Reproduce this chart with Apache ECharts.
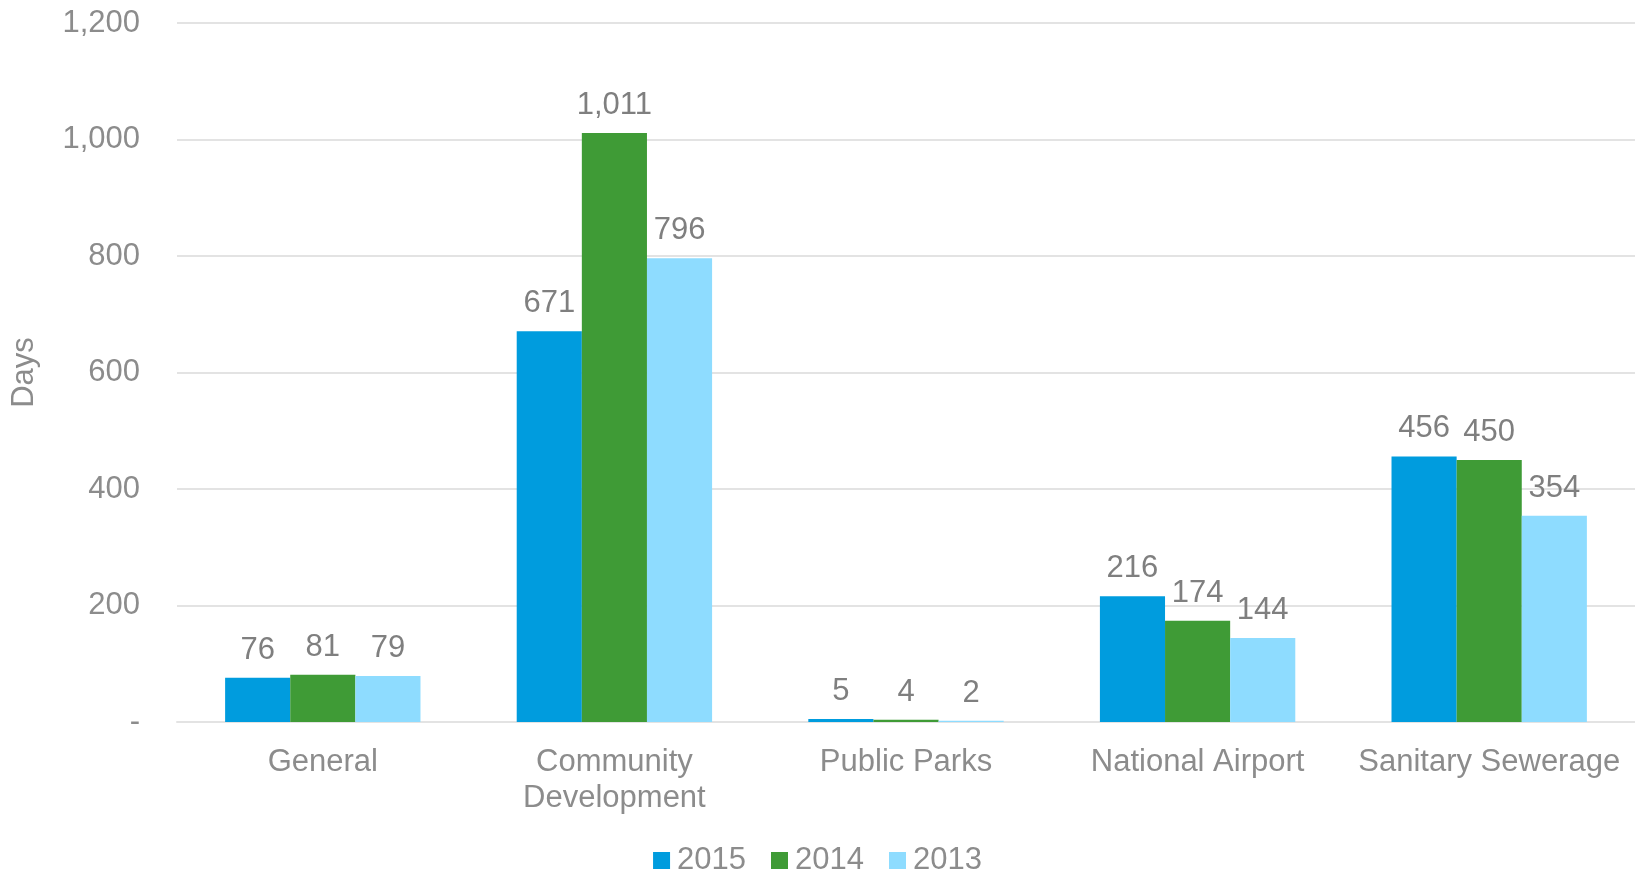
<!DOCTYPE html>
<html>
<head>
<meta charset="utf-8">
<script src="https://cdn.jsdelivr.net/npm/echarts@6/dist/echarts.min.js"></script>
<style>html,body{margin:0;padding:0;background:#fff;}#c{width:1635px;height:869px;}</style>
</head>
<body>
<div id="c"></div>
<script>
const categories = ['General', 'Community\nDevelopment', 'Public Parks', 'National Airport', 'Sanitary Sewerage'];
const seriesNames = ['2015', '2014', '2013'];
const values2015 = [76, 671, 5, 216, 456];
const values2014 = [81, 1011, 4, 174, 450];
const values2013 = [79, 796, 2, 144, 354];
const colors = ['#009CDE', '#3F9B36', '#8EDCFF'];
const yTicks = { min: 0, max: 1200, interval: 200 };

const fmt = v => v === 0 ? '-' : v.toLocaleString('en-US');
const FONT = 'Liberation Sans, Arial, sans-serif';
const chart = echarts.init(document.getElementById('c'));
const mk = (name, data, color) => ({
  name, type: 'bar', data,
  itemStyle: { color },
  barGap: '0%', barCategoryGap: '33%',
  label: { show: true, position: 'top', distance: 12, color: '#7f7f7f', fontSize: 31, fontFamily: FONT,
           formatter: p => fmt(p.value) }
});
chart.setOption({
  animation: false,
  grid: { left: 177, right: 0, top: 23, bottom: 147 },
  legend: {
    data: seriesNames, top: 840, left: 'center', icon: 'rect', itemWidth: 17, itemHeight: 17,
    itemGap: 25, textStyle: { color: '#8c8c8c', fontSize: 31, fontFamily: FONT, padding: [0, 0, 0, 2] }
  },
  xAxis: {
    type: 'category', data: categories,
    axisLine: { show: true, lineStyle: { color: '#e3e3e3', width: 2 } },
    axisTick: { show: false },
    axisLabel: { color: '#8c8c8c', fontSize: 31, fontFamily: FONT, margin: 22, lineHeight: 36, interval: 0 }
  },
  yAxis: {
    type: 'value', min: yTicks.min, max: yTicks.max, interval: yTicks.interval,
    name: 'Days', nameLocation: 'middle', nameGap: 137, nameRotate: 90,
    nameTextStyle: { color: '#8c8c8c', fontSize: 31, fontFamily: FONT },
    axisLine: { show: false }, axisTick: { show: false },
    axisLabel: { color: '#8c8c8c', fontSize: 31, fontFamily: FONT, margin: 37, formatter: fmt },
    splitLine: { lineStyle: { color: '#e3e3e3', width: 2 } }
  },
  series: [
    mk(seriesNames[0], values2015, colors[0]),
    mk(seriesNames[1], values2014, colors[1]),
    mk(seriesNames[2], values2013, colors[2])
  ]
});
</script>
</body>
</html>
